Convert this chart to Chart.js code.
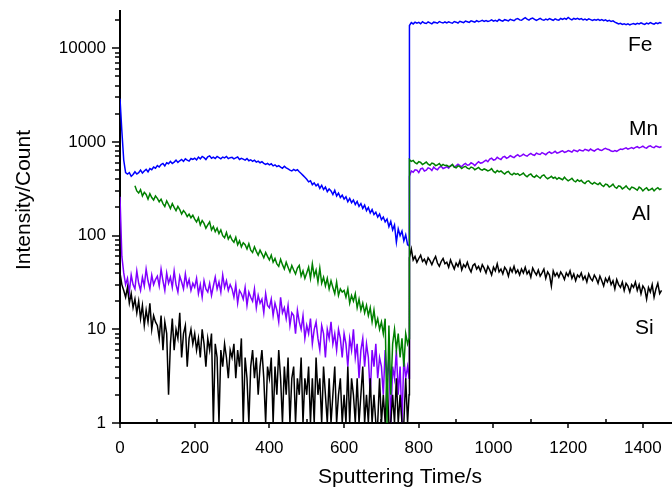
<!DOCTYPE html>
<html><head><meta charset="utf-8">
<script src="https://cdn.jsdelivr.net/npm/chart.js@4.4.1/dist/chart.umd.min.js"></script>
<style>html,body{margin:0;padding:0;background:#fff;overflow:hidden}canvas{display:block}</style>
</head><body>
<canvas id="c" width="672" height="488"></canvas>
<script>
// Sputtering time (s)
const time = [
0,5,10,15,20,25,30,35,40,45,50,55,60,65,70,75,80,85,90,95,
100,105,110,115,120,125,130,135,140,145,150,155,160,165,170,175,180,185,190,195,
200,205,210,215,220,225,230,235,240,245,250,255,260,265,270,275,280,285,290,295,
300,305,310,315,320,325,330,335,340,345,350,355,360,365,370,375,380,385,390,395,
400,405,410,415,420,425,430,435,440,445,450,455,460,465,470,475,480,485,490,495,
500,505,510,515,520,525,530,535,540,545,550,555,560,565,570,575,580,585,590,595,
600,605,610,615,620,625,630,635,640,645,650,655,660,665,670,675,680,685,690,695,
700,705,710,715,720,725,730,735,740,745,750,755,760,765,770,774,
775,780,785,790,795,800,805,810,815,820,825,830,835,840,845,850,855,860,865,870,
875,880,885,890,895,900,905,910,915,920,925,930,935,940,945,950,955,960,965,970,
975,980,985,990,995,1000,1005,1010,1015,1020,1025,1030,1035,1040,1045,1050,1055,1060,1065,1070,
1075,1080,1085,1090,1095,1100,1105,1110,1115,1120,1125,1130,1135,1140,1145,1150,1155,1160,1165,1170,
1175,1180,1185,1190,1195,1200,1205,1210,1215,1220,1225,1230,1235,1240,1245,1250,1255,1260,1265,1270,
1275,1280,1285,1290,1295,1300,1305,1310,1315,1320,1325,1330,1335,1340,1345,1350,1355,1360,1365,1370,
1375,1380,1385,1390,1395,1400,1405,1410,1415,1420,1425,1430,1435,1440,1445,1450
];
// Fe counts
const fe = [
2900,1300,640,470,455,470,430,450,480,455,470,500,465,490,510,480,520,505,540,525,
560,540,575,590,555,600,585,620,590,610,640,605,630,650,620,660,640,625,665,650,
670,645,690,660,700,680,650,695,710,670,690,665,700,680,660,690,675,700,665,680,
685,660,675,690,650,670,655,640,665,630,645,620,640,610,625,600,615,590,575,590,
570,585,555,570,545,560,540,525,550,530,515,500,490,510,495,505,480,460,440,420,
400,375,385,350,365,340,355,320,345,310,330,295,315,300,275,305,265,285,255,270,
245,260,230,250,225,240,215,232,205,220,195,212,185,200,175,190,168,178,158,170,
148,158,140,150,125,142,115,130,85,118,100,112,88,102,80,78,
17500,18800,18200,19000,18500,18900,18300,19200,18600,18400,19100,18700,18200,19000,18800,18500,19300,18900,18600,19100,
18700,19200,18800,18500,19300,19000,18600,19400,19100,18800,19500,19200,18900,19600,19300,19000,19700,19200,19500,19900,
19400,19800,19300,19600,20100,19500,19900,19400,20300,19800,19500,20200,19900,19600,20400,20000,19700,20500,20800,20100,
19900,20600,21200,20500,20000,20700,21000,20400,19800,20300,20900,20200,19900,20500,20100,20700,20300,19900,20600,20200,
20000,20800,20300,20900,20400,21300,20600,20100,20800,20400,20900,20300,20700,20100,20500,20000,20600,20200,19800,20300,
19900,20400,19800,20200,19700,20100,19500,19900,19300,19600,19000,18600,18200,18500,18000,18300,17900,18200,17800,18100,
18400,18000,18500,18200,18700,18300,18000,18600,18200,18800,18400,18100,18700,18300,18800,18500
];
// Mn counts
const mn = [
260,60,40,30,35,25,38,30,27,42,31,26,36,29,44,33,27,38,30,34,
37,29,44,33,26,40,31,36,28,42,30,25,37,32,27,39,29,34,26,31,
28,35,24,30,22,33,27,25,31,23,29,36,27,32,25,38,28,33,26,30,
27,22,30,19,26,24,21,28,18,25,22,20,27,17,23,19,21,15,24,18,
17,21,14,19,16,12,22,15,17,13,18,11,15,14,9,16,12,10,14,8,
11,9,13,7,10,12,8,6,11,9,5,10,8,12,7,9,6,10,8,5,
9,7,4,8,6,10,5,7,3,6,8,4,7,5,2,6,4,7,3,5,
4,2,6,3,5,1,4,3,6,2,4,1,5,3,4,3,
430,490,475,505,500,470,515,525,490,500,530,520,495,540,515,505,535,550,520,530,
545,525,560,570,540,555,580,560,545,575,590,565,570,600,585,560,590,615,595,600,
620,640,615,655,670,640,650,685,665,650,690,700,670,685,715,695,680,710,730,700,
715,740,720,705,735,755,730,720,760,745,735,770,750,730,765,785,755,770,795,760,
770,790,805,775,785,810,795,780,820,805,790,825,810,800,835,820,805,840,815,800,
830,845,820,810,840,855,835,825,800,790,810,795,820,840,830,850,865,840,855,870,
850,875,890,865,880,900,870,860,895,910,880,870,905,890,875,895
];
// Al counts
const al = [
null,null,null,null,null,null,null,null,340,300,285,310,265,290,275,245,280,255,240,265,
250,230,245,220,205,235,215,195,220,200,185,205,190,170,185,175,160,170,155,165,
150,140,155,130,145,135,120,130,140,115,125,110,120,105,115,100,95,108,92,100,
90,85,96,80,88,76,84,80,72,82,70,66,76,68,62,70,64,58,66,60,
55,62,52,57,50,47,56,49,44,52,46,41,48,43,39,45,48,37,42,35,
40,46,35,50,37,43,32,45,31,36,29,35,27,33,28,24,32,23,27,25,
26,22,27,19,23,20,24,17,21,16,19,15,18,14,17,12,16,11,13,10,
12,9,13,1,11,2,7,10,6,9,5,8,4,9,7,8,
650,620,635,600,585,615,605,575,590,610,580,565,595,585,560,570,590,555,575,560,
565,545,550,575,540,530,555,545,520,540,550,525,515,540,530,505,520,535,510,500,
515,505,490,500,520,485,470,495,480,490,470,455,475,485,455,445,465,450,460,440,
450,465,440,425,445,455,430,420,440,425,410,435,445,420,405,415,430,410,420,400,
415,405,395,420,400,385,395,410,385,375,395,380,390,370,360,380,385,365,355,370,
360,350,365,345,335,355,350,330,340,355,330,320,340,335,315,325,340,320,310,330,
325,315,305,330,320,300,315,325,305,310,320,300,315,325,310,318
];
// Si counts
const si = [
40,30,26,22,28,19,24,17,21,15,20,13,18,11,16,12,19,10,14,12,
11,8,14,6,12,9,2,7,13,6,10,8,15,5,9,11,4,8,10,7,
9,6,8,5,10,7,4,8,6,9,1,7,5,1,6,4,7,5,3,6,
5,7,3,6,4,8,1,5,3,1,4,6,3,5,2,4,6,3,1,4,
3,5,1,4,2,6,3,1,4,2,5,1,3,4,1,3,2,5,1,3,
2,4,1,3,1,5,2,3,1,4,2,1,3,1,2,4,1,2,3,1,
2,1,4,1,3,2,1,3,1,2,4,1,2,1,3,1,2,1,1,3,
1,2,1,3,1,1,2,1,3,1,2,1,1,3,1,2,
58,72,55,60,52,57,62,53,56,50,58,54,49,55,60,51,47,53,57,50,
52,46,55,49,44,51,47,54,43,49,46,52,45,41,48,50,44,47,42,49,
45,40,47,43,38,46,42,50,41,44,39,46,43,37,45,41,47,40,43,38,
44,40,46,39,42,36,45,41,38,43,37,40,44,35,41,38,29,42,37,40,
36,41,38,34,40,37,42,35,39,33,38,36,40,34,37,32,39,35,33,38,
35,31,37,33,29,35,32,36,30,33,27,34,30,28,32,26,31,29,25,30,
28,32,26,30,24,29,27,21,28,25,30,22,27,31,24,26
];
const xTickLabels = [0,200,400,600,800,1000,1200,1400];
const yTickLabels = [1,10,100,1000,10000];
const seriesNames = ['Fe','Mn','Al','Si'];

const FONT = "'Liberation Sans', Arial, sans-serif";
const labelAnchors = {Fe:[1360,9450], Mn:[1363,1195], Al:[1371,147], Si:[1379,8.9]};

function pts(vals){ return vals.map((v,i)=>({x:time[i], y:v})); }

const decor = {
  id:'decor',
  afterDraw(chart){
    const c = chart.ctx, xs = chart.scales.x, ys = chart.scales.y, a = chart.chartArea;
    c.save();
    c.strokeStyle = '#000'; c.lineWidth = 1.5;
    c.beginPath();
    xs.ticks.forEach(t=>{
      const px = Math.round(xs.getPixelForValue(t.value));
      if (t.value % 200 === 0){ c.moveTo(px, a.bottom); c.lineTo(px, a.bottom+5); }
      else { c.moveTo(px, a.bottom); c.lineTo(px, a.bottom-4); }
    });
    ys.ticks.forEach(t=>{
      const v = t.value;
      const e = Math.pow(10, Math.floor(Math.log10(v)+1e-9));
      const m = v/e;
      if (Math.abs(m-Math.round(m))>1e-6) return;
      const py = Math.round(ys.getPixelForValue(v));
      const len = Math.round(m)===1 ? 8 : 5;
      c.moveTo(a.left-len, py); c.lineTo(a.left, py);
    });
    c.stroke();
    c.fillStyle = '#000';
    c.font = '21px ' + FONT;
    c.textAlign = 'left'; c.textBaseline = 'alphabetic';
    seriesNames.forEach(n=>{
      const p = labelAnchors[n];
      c.fillText(n, xs.getPixelForValue(p[0]), ys.getPixelForValue(p[1]));
    });
    c.textAlign = 'center';
    c.fillText('Sputtering Time/s', 400, 483);
    c.translate(30, 200);
    c.rotate(-Math.PI/2);
    c.fillText('Intensity/Count', 0, 0);
    c.restore();
  }
};

new Chart(document.getElementById('c'), {
  type:'line',
  data:{datasets:[
    {label:'Al', data:pts(al), borderColor:'#008000'},
    {label:'Si', data:pts(si), borderColor:'#000000'},
    {label:'Mn', data:pts(mn), borderColor:'#8000ff'},
    {label:'Fe', data:pts(fe), borderColor:'#0000ff'}
  ]},
  options:{
    responsive:false, animation:false, devicePixelRatio:1,
    layout:{padding:{top:0,left:0,right:0,bottom:0}},
    elements:{point:{radius:0}, line:{borderWidth:1.5, tension:0}},
    plugins:{legend:{display:false}, tooltip:{enabled:false}},
    scales:{
      x:{type:'linear', min:0, max:1478,
        grid:{display:false, drawTicks:false}, border:{display:true,color:'#000',width:2},
        ticks:{stepSize:100, includeBounds:false, autoSkip:false, maxRotation:0, padding:15, color:'#000',
          font:{family:FONT,size:17}, callback:v=> xTickLabels.includes(v) ? String(v) : ''},
        afterFit:s=>{ s.height = 65; s.paddingLeft = 0; s.paddingRight = 0; }},
      y:{type:'logarithmic', min:1, max:25000,
        grid:{display:false, drawTicks:false}, border:{display:true,color:'#000',width:2},
        ticks:{autoSkip:false, padding:14, color:'#000',
          font:{family:FONT,size:17}, callback:v=> yTickLabels.includes(v) ? String(v) : ''},
        afterFit:s=>{ s.width = 120; s.paddingTop = 11; s.paddingBottom = 0; }}
    }
  },
  plugins:[decor]
});
</script>
</body></html>
